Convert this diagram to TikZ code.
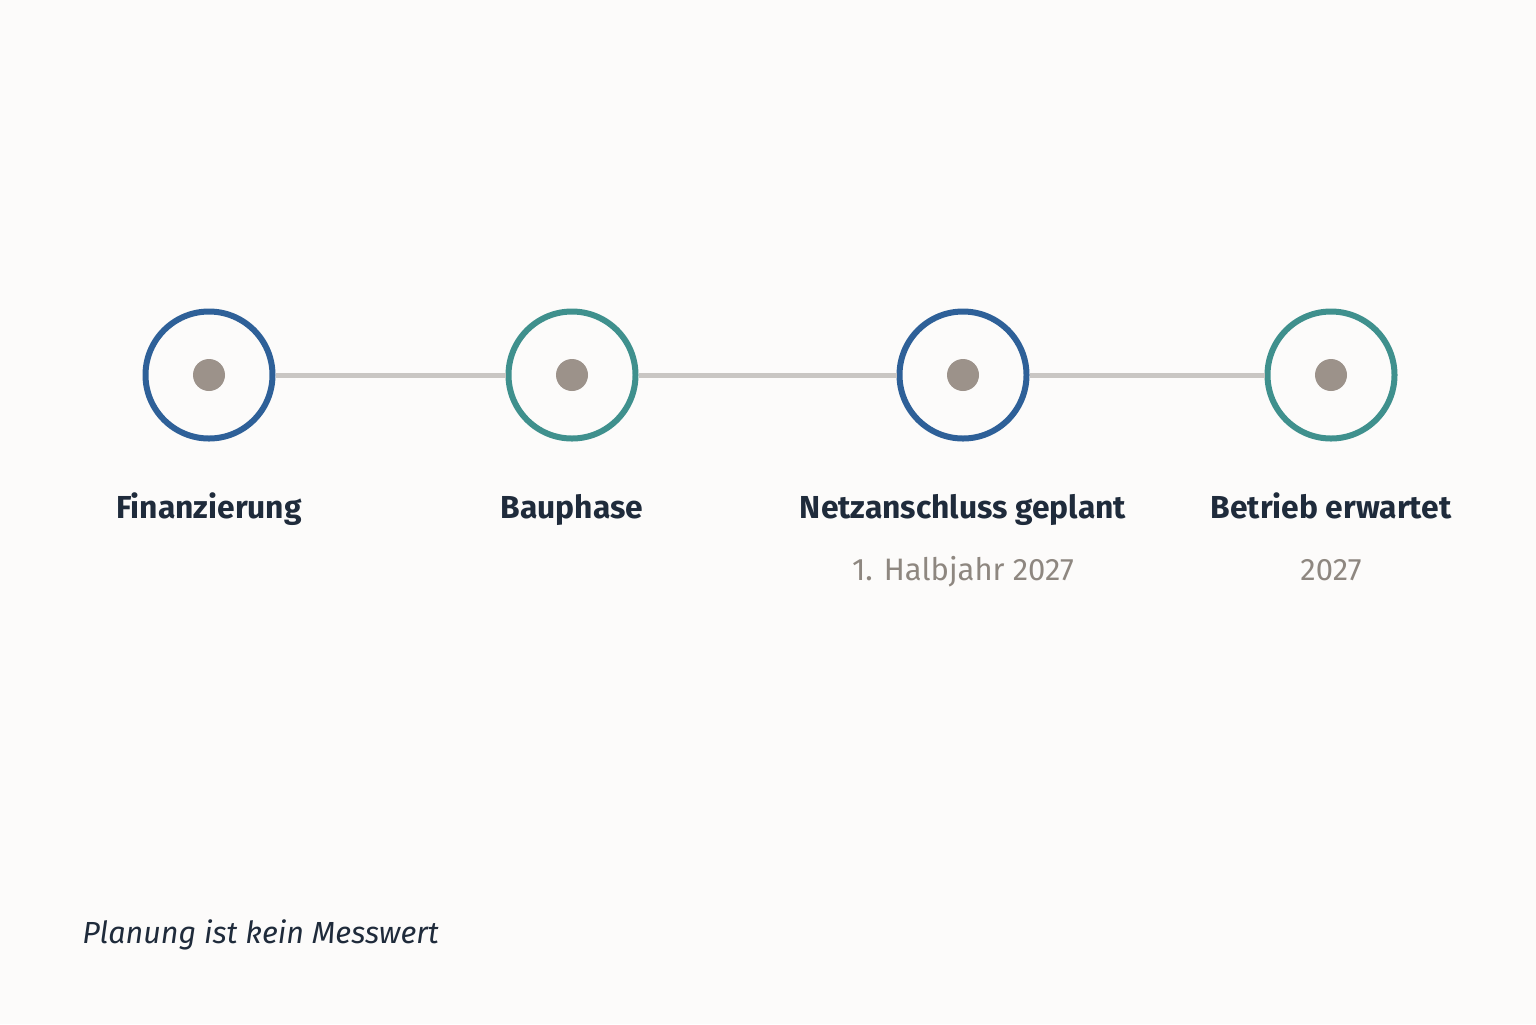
\documentclass[tikz,border=0pt]{standalone}
\usepackage{fontspec}
\setmainfont{Fira Sans}
\usetikzlibrary{positioning}

\definecolor{bgcol}{HTML}{FCFBFA}
\definecolor{ringblue}{HTML}{2E6098}
\definecolor{ringteal}{HTML}{3F908D}
\definecolor{dotgray}{HTML}{9C928A}
\definecolor{linegray}{HTML}{C9C6C3}
\definecolor{textdark}{HTML}{1F2B3B}
\definecolor{textgray}{HTML}{8E8780}

\begin{document}
\begin{tikzpicture}[
x=0.5pt, y=-0.5pt,
ring/.style={circle, draw=#1, line width=3pt, fill=bgcol, minimum size=63.5pt, inner sep=0pt},
dot/.style={circle, fill=dotgray, minimum size=16pt, inner sep=0pt},
phase/.style={font=\fontsize{15.9}{18}\selectfont\bfseries, text=textdark, inner sep=0pt, text height=0.75em, text depth=0.25em},
date/.style={font=\fontsize{15.5}{18}\selectfont, text=textgray, inner sep=0pt, text height=0.75em, text depth=0.25em},
]

\fill[bgcol] (0,0) rectangle (1536,1024);
\useasboundingbox (0,0) rectangle (1536,1024);

\node[ring=ringblue] (fin) at (209,375) {};
\node[ring=ringteal] (bau) at (572,375) {};
\node[ring=ringblue] (netz) at (963,375) {};
\node[ring=ringteal] (betr) at (1331,375) {};

\draw[linegray, line width=2.5pt] (fin.east) -- (bau.west);
\draw[linegray, line width=2.5pt] (bau.east) -- (netz.west);
\draw[linegray, line width=2.5pt] (netz.east) -- (betr.west);

\node[dot] (findot) at (fin.center) {};
\node[dot] (baudot) at (bau.center) {};
\node[dot] (netzdot) at (netz.center) {};
\node[dot] (betrdot) at (betr.center) {};

\node[phase] (finlab) [below=31pt of fin] {Finanzierung};
\node[phase] (baulab) [below=31pt of bau] {Bauphase};
\node[phase] (netzlab) [below=31pt of netz] {Netzanschluss geplant};
\node[phase] (betrlab) [below=31pt of betr] {Betrieb erwartet};

\node[date] (netzdate) [below=20.5pt of netzlab] {1. Halbjahr 2027};
\node[date] (betrdate) [below=20.5pt of betrlab] {2027};

\node[font=\fontsize{15.25}{18}\selectfont\itshape, text=textdark, anchor=west, inner sep=0pt] (note) at (82,935) {Planung ist kein Messwert};
\end{tikzpicture}
\end{document}
